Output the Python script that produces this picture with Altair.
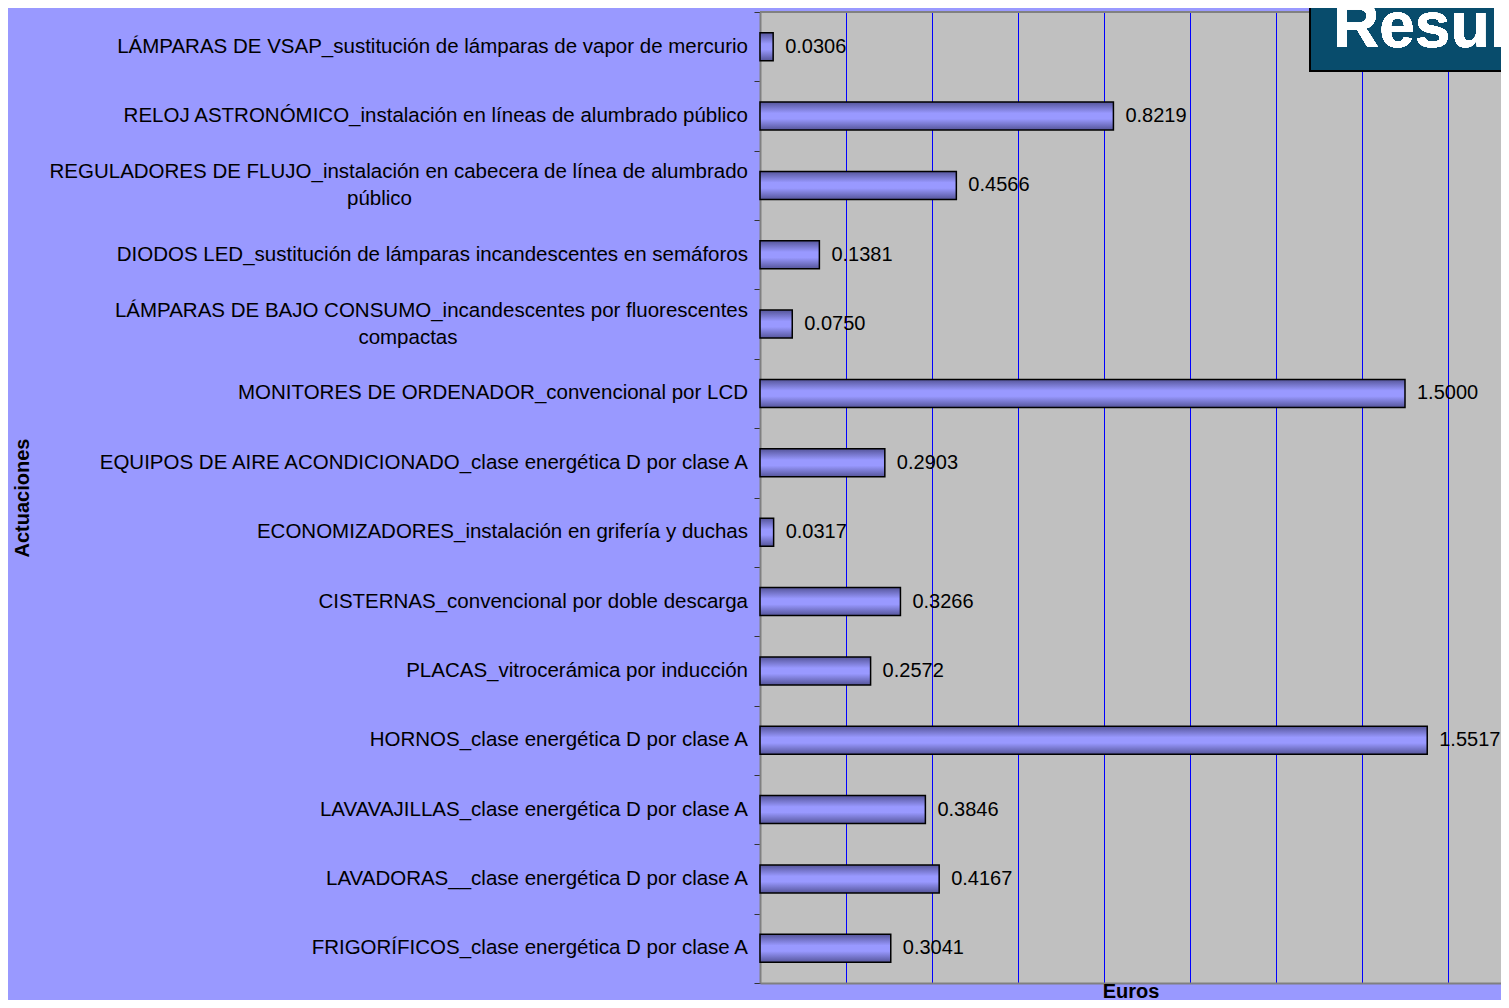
import altair as alt
import pandas as pd

NB = "\u00a0"
WJ = "\u2060"

categories = [
    "LÁMPARAS DE VSAP_sustitución de lámparas de vapor de mercurio",
    "RELOJ ASTRONÓMICO_instalación en líneas de alumbrado público",
    "REGULADORES DE FLUJO_instalación en cabecera de línea de alumbrado\npúblico",
    "DIODOS LED_sustitución de lámparas incandescentes en semáforos",
    "LÁMPARAS DE BAJO CONSUMO_incandescentes por fluorescentes\ncompactas",
    "MONITORES DE ORDENADOR_convencional por LCD",
    "EQUIPOS DE AIRE ACONDICIONADO_clase energética D por clase A",
    "ECONOMIZADORES_instalación en grifería y duchas",
    "CISTERNAS_convencional por doble descarga",
    "PLACAS_vitrocerámica por inducción",
    "HORNOS_clase energética D por clase A",
    "LAVAVAJILLAS_clase energética D por clase A",
    "LAVADORAS__clase energética D por clase A",
    "FRIGORÍFICOS_clase energética D por clase A",
]
values = [0.0306, 0.8219, 0.4566, 0.1381, 0.0750, 1.5000, 0.2903,
          0.0317, 0.3266, 0.2572, 1.5517, 0.3846, 0.4167, 0.3041]

# trailing non-breaking spaces so the second line sits centred under the first
second_line_pad = {"público": 59, "compactas": 51}


def display_label(c):
    if "\n" in c:
        first, second = c.split("\n")
        return first + "\n" + second + NB * second_line_pad.get(second, 0) + WJ
    return c


labels = [display_label(c) for c in categories]
df = pd.DataFrame({"cat": labels, "value": values})

FONT = "Liberation Sans"
PX_PER_UNIT = 430.0
LEFT = 752
PLOT_X0 = 8 + LEFT          # page x of plot's left edge
W, H = 1493 - LEFT, 971

gradient = {
    "gradient": "linear", "x1": 0, "y1": 0, "x2": 0, "y2": 1,
    "stops": [
        {"offset": 0.0, "color": "#55559A"},
        {"offset": 0.4, "color": "#9999FF"},
        {"offset": 0.6, "color": "#9999FF"},
        {"offset": 1.0, "color": "#55559A"},
    ],
}

y_enc = alt.Y(
    "cat:N", sort=labels,
    scale=alt.Scale(paddingInner=0, paddingOuter=0),
    axis=alt.Axis(
        title="Actuaciones", titleFont=FONT, titleFontSize=20, titleFontWeight="bold",
        titleColor="black", titleX=-(LEFT - 14), titleY=H / 2, titleBaseline="middle",
        labels=False,
        tickBand="extent", tickColor="#333333", tickSize=6, tickWidth=1,
        domainColor="#808080", domainWidth=2, grid=False,
    ),
)

x_scale = alt.Scale(domain=[0, W / PX_PER_UNIT], nice=False, zero=True)

bars = alt.Chart(df).mark_bar(
    size=28, fill=gradient, stroke="black", strokeWidth=1.5
).encode(
    y=y_enc,
    x=alt.X(
        "value:Q", scale=x_scale,
        axis=alt.Axis(
            title="Euros", titleFont=FONT, titleFontSize=20, titleFontWeight="bold",
            titleColor="black", titleY=14, titleBaseline="alphabetic",
            labels=False, ticks=False,
            values=[0, 0.2, 0.4, 0.6, 0.8, 1.0, 1.2, 1.4, 1.6],
            grid=True, gridColor="#0000FF", gridWidth=1,
            domainColor="#808080", domainWidth=2,
        ),
    ),
)

value_text = alt.Chart(df).mark_text(
    align="left", baseline="middle", dx=12, font=FONT, fontSize=20, color="black"
).encode(
    y=alt.Y("cat:N", sort=labels),
    x=alt.X("value:Q", scale=x_scale),
    text=alt.Text("value:Q", format=".4f"),
)

# category labels (drawn as text so wrapped ones can be centred vertically)
label_single = alt.Chart(df).transform_filter(
    "indexof(datum.cat, '\\n') < 0"
).mark_text(
    align="right", baseline="middle", font=FONT, fontSize=20.5, color="black"
).encode(
    y=alt.Y("cat:N", sort=labels),
    x=alt.value(-12),
    text="cat:N",
)

label_wrapped = alt.Chart(df).transform_filter(
    "indexof(datum.cat, '\\n') >= 0"
).mark_text(
    align="right", baseline="middle", font=FONT, fontSize=20.5, color="black",
    lineBreak="\n", lineHeight=27, dy=-13.5
).encode(
    y=alt.Y("cat:N", sort=labels),
    x=alt.value(-12),
    text="cat:N",
)

top_border = alt.Chart(df).mark_rule(color="#808080", strokeWidth=2).encode(
    x=alt.value(0), x2=alt.value(W), y=alt.value(0)
)

box = alt.Chart(df).mark_rect(
    fill="#084C6C", stroke="black", strokeWidth=2
).encode(
    x=alt.value(1310 - PLOT_X0), x2=alt.value(W + 40), y=alt.value(-30), y2=alt.value(59)
)

box_text = alt.Chart(df).mark_text(
    align="left", baseline="alphabetic", font=FONT, fontSize=64,
    fontWeight="bold", color="white"
).encode(
    x=alt.value(1333 - PLOT_X0), y=alt.value(35), text=alt.value("Resultados")
)

chart = alt.layer(
    bars, value_text, label_single, label_wrapped, top_border, box, box_text
).properties(
    width=W, height=H,
    background="#9999FF",
    padding={"left": LEFT, "top": 4, "right": 0, "bottom": 17},
    autosize=alt.AutoSizeParams(type="none"),
).configure_view(
    fill="#C0C0C0", stroke=None
)

chart.save("out.html", embed_options={"renderer": "svg", "actions": False})
